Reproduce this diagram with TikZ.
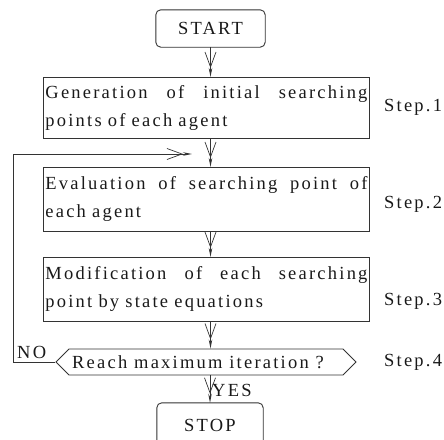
\documentclass[tikz,border=0pt]{standalone}
\usepackage{fontspec}
\setmainfont{Liberation Serif}[LetterSpace=12]
\usetikzlibrary{arrows.meta,shapes.symbols}
\begin{document}
\begin{tikzpicture}[x=1pt,y=1pt,
  txt/.style={font=\fontsize{18.5}{28}\selectfont, text=black!90},
  line/.style={draw=black!80, line width=0.9pt},
  box/.style={line, txt, text width=322pt,
    inner xsep=2pt, inner ysep=0pt, align=left, anchor=north west},
  term/.style={txt, inner sep=0pt},
  termframe/.style={line, rounded corners=5pt},
  arr/.style={line,
    -{Straight Barb[length=15pt,width=11pt,line width=0.7pt] Stealth[length=9pt,width=3.5pt]}},
  steplbl/.style={txt, anchor=base west, inner sep=0pt},
]
\useasboundingbox (0,0) rectangle (444,-439);
\clip (0,0) rectangle (444,-439);

\node[term, minimum width=109pt, minimum height=37pt] (start) at (210.5,-28.5) {START};
\draw[termframe] (start.north west) rectangle (start.south east);

\node[box, minimum height=61pt] (b1) at (43,-77)
  {Generation\hfill of\hfill initial\hfill searching\\points of each agent};
\node[box, minimum height=64pt] (b2) at (43,-167)
  {Evaluation\hfill of\hfill searching\hfill point\hfill of\\each agent};
\node[box, minimum height=64pt] (b3) at (43,-257)
  {Modification\hfill of\hfill each\hfill searching\\point by state equations};

\node[line, shape=signal, signal to=west and east,
  signal pointer angle=90, minimum width=300pt, minimum height=26pt,
  inner sep=1pt, txt] (dec) at (206,-362) {Reach maximum iteration ?\hspace*{16pt}};

\node[term, minimum width=106pt, minimum height=44pt] (stop) at (210,-425) {STOP};
\draw[termframe] (stop.north west) rectangle (stop.south east);

\node[steplbl] (s1) at (384,-111) {Step.1};
\node[steplbl] (s2) at (384,-208) {Step.2};
\node[steplbl] (s3) at (384,-305) {Step.3};
\node[steplbl] (s4) at (384,-366) {Step.4};

\node[steplbl] (no) at (17,-358) {NO};
\node[steplbl] (yes) at (212,-396) {YES};

\draw[arr] (start.south) -- (start.south |- b1.north);
\draw[arr] (b1.south -| start) -- (b2.north -| start);
\draw[arr] (b2.south -| start) -- (b3.north -| start);
\draw[arr] (b3.south -| start) -- (dec.north -| start);
\draw[arr] (dec.south -| stop) -- (stop.north);

\coordinate (fbcorner) at (13,-362);
\coordinate (fbend) at (192,-154);
\draw[arr] (dec.west) -- (fbcorner) |- (fbend);
\end{tikzpicture}
\end{document}
